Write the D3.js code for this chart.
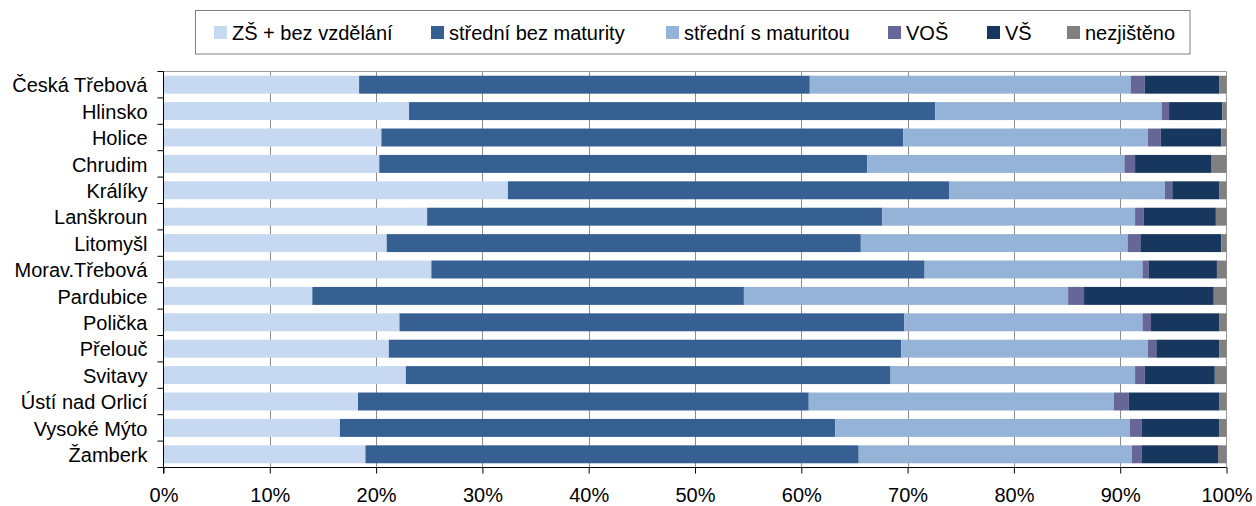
<!DOCTYPE html>
<html><head><meta charset="utf-8">
<script src="https://cdn.jsdelivr.net/npm/d3@7"></script>
<style>
html,body{margin:0;padding:0;background:#fff;}
svg text{font-family:"Liberation Sans",Arial,sans-serif;fill:#000;}
</style></head>
<body>
<svg id="chart" width="1256" height="506"></svg>
<script>
const categories = ["Česká Třebová","Hlinsko","Holice","Chrudim","Králíky","Lanškroun","Litomyšl","Morav.Třebová","Pardubice","Polička","Přelouč","Svitavy","Ústí nad Orlicí","Vysoké Mýto","Žamberk"];
const seriesNames = ["ZŠ + bez vzdělání","střední bez maturity","střední s maturitou","VOŠ","VŠ","nezjištěno"];
const zs      = [18.4,23.1,20.5,20.3,32.4,24.8,21.0,25.2,14.0,22.2,21.2,22.8,18.3,16.6,19.0];
const sbm     = [42.4,49.5,49.1,45.9,41.5,42.8,44.6,46.4,40.6,47.5,48.2,45.6,42.4,46.6,46.4];
const ssm     = [30.2,21.3,23.0,24.2,20.3,23.8,25.1,20.5,30.5,22.4,23.2,23.0,28.7,27.7,25.7];
const vos     = [1.3,0.7,1.2,1.0,0.7,0.8,1.2,0.6,1.5,0.8,0.8,0.9,1.4,1.1,0.9];
const vs      = [7.0,5.0,5.7,7.2,4.4,6.8,7.6,6.4,12.2,6.4,5.9,6.6,8.5,7.3,7.2];
const nezj    = [0.7,0.4,0.5,1.4,0.7,1.0,0.5,0.9,1.2,0.7,0.7,1.1,0.7,0.7,0.8];
const xTicks  = [0,10,20,30,40,50,60,70,80,90,100];
const colors  = ["#c6d9f0","#366092","#95b3d7","#666699","#17375e","#808080"];

const seriesVals = [zs,sbm,ssm,vos,vs,nezj];
const table = categories.map((c,i)=>{
  const row = {cat:c};
  const tot = d3.sum(seriesVals, s=>s[i]);
  seriesNames.forEach((k,j)=>row[k]=seriesVals[j][i]/tot*100);
  return row;
});

const svg = d3.select("#chart");
const L = 163.5, R = 1226.5, T = 71.5, B = 467.5;
const x = d3.scaleLinear().domain([0,100]).range([L,R]);
const y = d3.scaleBand().domain(categories).range([T,B]).paddingInner(0.32).paddingOuter(0.16);
const color = d3.scaleOrdinal().domain(seriesNames).range(colors);

// gridlines
svg.append("g").selectAll("line").data(xTicks.filter(t=>t>0&&t<100)).join("line")
  .attr("x1",d=>Math.round(x(d))+0.5).attr("x2",d=>Math.round(x(d))+0.5)
  .attr("y1",T).attr("y2",B).attr("stroke","#8c8c8c").attr("stroke-width",1);
// plot frame top/right
svg.append("line").attr("x1",L).attr("x2",R).attr("y1",T).attr("y2",T).attr("stroke","#9a9a9a");
svg.append("line").attr("x1",R).attr("x2",R).attr("y1",T).attr("y2",B).attr("stroke","#9a9a9a");

const stacked = d3.stack().keys(seriesNames)(table);
svg.append("g").selectAll("g").data(stacked).join("g")
  .attr("fill",d=>color(d.key))
  .selectAll("rect").data(d=>d).join("rect")
  .attr("x",d=>x(d[0])).attr("width",d=>x(d[1])-x(d[0]))
  .attr("y",d=>y(d.data.cat)).attr("height",y.bandwidth());

// y axis
const gy = svg.append("g");
gy.append("line").attr("x1",L).attr("x2",L).attr("y1",T).attr("y2",B+6).attr("stroke","#000");
const bounds = d3.range(categories.length+1).map(i=>T+i*y.step());
gy.selectAll("line.t").data(bounds).join("line").attr("class","t")
  .attr("x1",L-6).attr("x2",L).attr("y1",d=>d).attr("y2",d=>d).attr("stroke","#000");
gy.selectAll("text").data(categories).join("text")
  .attr("x",L-16).attr("y",d=>y(d)+y.bandwidth()/2).attr("dy","0.38em")
  .attr("text-anchor","end").style("font-size","20px").text(d=>d);

// x axis
const gx = svg.append("g").attr("transform",`translate(0,${B})`)
  .call(d3.axisBottom(x).tickValues(xTicks).tickFormat(d=>d+"%").tickSize(6).tickPadding(14));
gx.select(".domain").attr("stroke","#000").attr("d",`M${L},0H${R}`);
gx.selectAll(".tick line").attr("stroke","#000");
gx.selectAll(".tick text").style("font-size","20px");
gx.attr("font-family",null).attr("font-size",null);

// legend
const lg = svg.append("g");
lg.append("rect").attr("x",195.5).attr("y",10.5).attr("width",994.5).attr("height",43.5)
  .attr("fill","#fff").attr("stroke","#808080");
const legX = [214,431,666,888,987,1067];
const items = lg.selectAll("g.it").data(seriesNames).join("g").attr("class","it")
  .attr("transform",(d,i)=>`translate(${legX[i]},0)`);
items.append("rect").attr("x",0).attr("y",26).attr("width",13).attr("height",13).attr("fill",d=>color(d));
items.append("text").attr("x",18).attr("y",40).style("font-size","20px").text(d=>d);
</script>
</body></html>
